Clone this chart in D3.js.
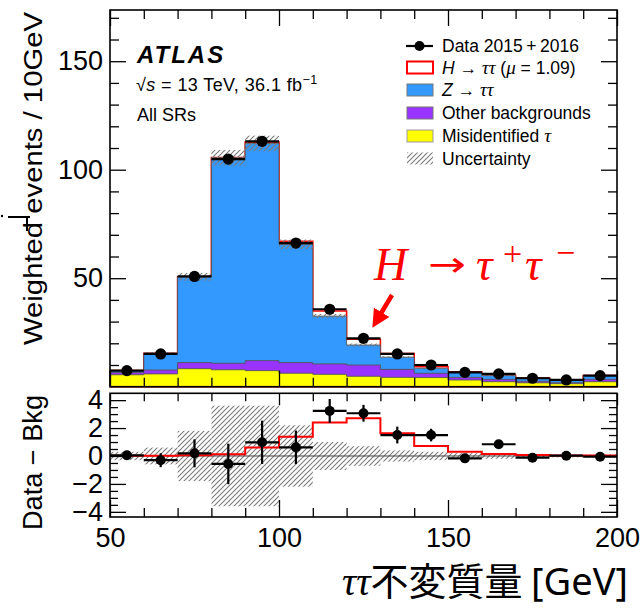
<!DOCTYPE html>
<html><head><meta charset="utf-8">
<script src="https://cdn.jsdelivr.net/npm/d3@7"></script>
<style>
html,body{margin:0;padding:0;background:#fff;}
svg{display:block;}
</style></head>
<body><svg id="c" width="641" height="609" font-family="Liberation Sans, Arial, sans-serif"></svg>
<script>
// ---- data ----
const binLow   = [50,60,70,80,90,100,110,120,130,140,150,160,170,180,190];
const binWidth = 10;
const misid    = [5.5,5.9,8.3,7.8,7.4,6.2,5.7,4.8,4.3,4.2,3.1,2.3,1.8,1.4,2.3];
const otherBkg = [1.0,1.8,2.8,3.0,4.6,4.9,4.8,5.2,3.7,2.0,1.2,1.1,0.7,0.4,1.1];
const ztautau  = [0.9,7.7,39.5,94.7,100.1,54.5,22.0,9.2,5.6,2.3,2.3,1.7,1.5,1.3,1.75];
const higgs    = [0.02,0.02,0.05,0.12,0.6,1.38,2.39,2.7,1.62,0.72,0.31,0.14,0.07,0.03,0.03];
const dataVals = [7.4,15.1,50.8,104.9,113.1,66.2,35.7,22.3,15.1,10.0,6.6,5.9,3.9,3.1,5.1];
const dataErr  = [0.3,0.5,1.0,1.45,1.55,1.2,0.85,0.6,0.6,0.45,0.25,0.3,0.2,0.2,0.2];
const bkgUnc   = [0.3,0.6,1.8,3.6,3.6,2.2,1.0,0.7,0.4,0.3,0.2,0.2,0.15,0.1,0.1];
const diffVals = [0.05,-0.3,0.19,-0.57,0.98,0.62,3.23,3.06,1.5,1.5,-0.17,0.84,-0.12,0.02,-0.05];
const yTopMajor = [50,100,150];
const yTopMinor = [10,20,30,40,60,70,80,90,110,120,130,140,160,170];
const yBotMajor = [-4,-2,0,2,4];
const yBotMinor = [-3.5,-3,-2.5,-1.5,-1,-0.5,0.5,1,1.5,2.5,3,3.5];
const xMajor = [50,100,150,200];
const xMinor = [60,70,80,90,110,120,130,140,160,170,180,190];

const colMisid = "#ffff00", colOther = "#9933ff", colZ = "#3399ff";
const SANS = "Liberation Sans, Arial, sans-serif";
const SERIF = "Liberation Serif, DejaVu Serif, serif";

const svg = d3.select("#c");
const defs = svg.append("defs");
const pat = defs.append("pattern").attr("id","hatch").attr("patternUnits","userSpaceOnUse")
  .attr("width",5).attr("height",5);
pat.append("path").attr("d","M-1,1 l2,-2 M0,5 l5,-5 M4,6 l2,-2")
  .attr("stroke","#7a7a7a").attr("stroke-width",1.1);

const L = 110, R = 617;
const x = d3.scaleLinear().domain([50,200]).range([L,R]);
const yT = d3.scaleLinear().domain([0,173.6]).range([386.7,10]);
const yB = d3.scaleLinear().domain([-4.37,4.49]).range([517,393.3]);

// cumulative stacks
const c1 = misid;
const c2 = misid.map((v,i)=>v+otherBkg[i]);
const c3 = c2.map((v,i)=>v+ztautau[i]);
const c4 = c3.map((v,i)=>v+higgs[i]);

function stepPts(vals){
  const pts = binLow.map((b,i)=>[b,vals[i]]);
  pts.push([binLow[binLow.length-1]+binWidth, vals[vals.length-1]]);
  return pts;
}
const areaT = d3.area().curve(d3.curveStepAfter).x(d=>x(d[0])).y0(yT(0)).y1(d=>yT(d[1]));
const gTop = svg.append("g");
gTop.append("path").datum(stepPts(c4)).attr("d",areaT).attr("fill","#fff").attr("stroke","#ff0000").attr("stroke-width",1.6);
gTop.append("path").datum(stepPts(c3)).attr("d",areaT).attr("fill",colZ).attr("stroke","#555").attr("stroke-width",0.9);
gTop.append("path").datum(stepPts(c2)).attr("d",areaT).attr("fill",colOther).attr("stroke","#555").attr("stroke-width",0.9);
gTop.append("path").datum(stepPts(c1)).attr("d",areaT).attr("fill",colMisid).attr("stroke","#555").attr("stroke-width",0.9);

gTop.selectAll("rect.unc").data(binLow).join("rect").attr("class","unc")
  .attr("x",b=>x(b)).attr("width",b=>x(b+binWidth)-x(b))
  .attr("y",(b,i)=>yT(c3[i]+bkgUnc[i])).attr("height",(b,i)=>yT(c3[i]-bkgUnc[i])-yT(c3[i]+bkgUnc[i]))
  .attr("fill","url(#hatch)");

function drawData(g, ys, vals, errs, r){
  const pts = g.append("g");
  binLow.forEach((b,i)=>{
    const cx = x(b+binWidth/2), cy = ys(vals[i]);
    pts.append("line").attr("x1",x(b)).attr("x2",x(b+binWidth)).attr("y1",cy).attr("y2",cy)
      .attr("stroke","#000").attr("stroke-width",2.2);
    pts.append("line").attr("x1",cx).attr("x2",cx).attr("y1",ys(vals[i]+errs[i])).attr("y2",ys(vals[i]-errs[i]))
      .attr("stroke","#000").attr("stroke-width",2.2);
    pts.append("circle").attr("cx",cx).attr("cy",cy).attr("r",r).attr("fill","#000");
  });
}
drawData(gTop, yT, dataVals, dataErr, 5.6);

// ---- lower panel ----
const gBot = svg.append("g");
gBot.selectAll("rect.unc").data(binLow).join("rect").attr("class","unc")
  .attr("x",b=>x(b)).attr("width",b=>x(b+binWidth)-x(b))
  .attr("y",(b,i)=>yB(bkgUnc[i])).attr("height",(b,i)=>yB(-bkgUnc[i])-yB(bkgUnc[i]))
  .attr("fill","url(#hatch)");
gBot.append("line").attr("x1",L).attr("x2",R).attr("y1",yB(0)).attr("y2",yB(0))
  .attr("stroke","#444").attr("stroke-width",1);
const lineB = d3.line().curve(d3.curveStepAfter).x(d=>x(d[0])).y(d=>yB(d[1]));
gBot.append("path").datum(stepPts(higgs)).attr("d",lineB).attr("fill","none")
  .attr("stroke","#ff0000").attr("stroke-width",2);
drawData(gBot, yB, diffVals, dataErr, 5);

// ---- frames & axes ----
function frame(y0,y1){
  svg.append("rect").attr("x",L).attr("y",y0).attr("width",R-L).attr("height",y1-y0)
    .attr("fill","none").attr("stroke","#000").attr("stroke-width",1.6);
}
frame(10,386.7);
frame(393.3,517);

function addAxis(axis, tx, ty){
  const g = svg.append("g").attr("transform",`translate(${tx},${ty})`).call(axis);
  g.select(".domain").remove();
  g.attr("font-family",SANS).attr("font-size",27);
  g.selectAll(".tick line").attr("stroke","#000").attr("stroke-width",1.3);
  g.selectAll("text").attr("fill","#000");
  return g;
}
addAxis(d3.axisRight(yT).tickValues(yTopMajor).tickSize(16).tickFormat(""), L, 0);
addAxis(d3.axisRight(yT).tickValues(yTopMinor).tickSize(9).tickFormat(""), L, 0);
addAxis(d3.axisLeft(yT).tickValues(yTopMajor).tickSize(16).tickFormat(""), R, 0);
addAxis(d3.axisLeft(yT).tickValues(yTopMinor).tickSize(9).tickFormat(""), R, 0);
addAxis(d3.axisLeft(yT).tickValues(yTopMajor).tickSize(0).tickPadding(7).tickFormat(d3.format("d")), L, 0);
addAxis(d3.axisTop(x).tickValues(xMajor).tickSize(16).tickFormat(""), 0, 386.7);
addAxis(d3.axisTop(x).tickValues(xMinor).tickSize(9).tickFormat(""), 0, 386.7);
addAxis(d3.axisBottom(x).tickValues(xMajor).tickSize(16).tickFormat(""), 0, 10);
addAxis(d3.axisBottom(x).tickValues(xMinor).tickSize(9).tickFormat(""), 0, 10);
addAxis(d3.axisRight(yB).tickValues(yBotMajor).tickSize(16).tickFormat(""), L, 0);
addAxis(d3.axisRight(yB).tickValues(yBotMinor).tickSize(8).tickFormat(""), L, 0);
addAxis(d3.axisLeft(yB).tickValues(yBotMajor).tickSize(16).tickFormat(""), R, 0);
addAxis(d3.axisLeft(yB).tickValues(yBotMinor).tickSize(8).tickFormat(""), R, 0);
addAxis(d3.axisLeft(yB).tickValues(yBotMajor).tickSize(0).tickPadding(7).tickFormat(d=>d<0?"\u2212"+Math.abs(d):d), L, 0);
addAxis(d3.axisTop(x).tickValues(xMajor).tickSize(17).tickFormat(""), 0, 517);
addAxis(d3.axisTop(x).tickValues(xMinor).tickSize(9).tickFormat(""), 0, 517);
addAxis(d3.axisBottom(x).tickValues(xMajor).tickSize(12).tickFormat(""), 0, 393.3);
addAxis(d3.axisBottom(x).tickValues(xMinor).tickSize(8).tickFormat(""), 0, 393.3);
const xl = addAxis(d3.axisBottom(x).tickValues(xMajor).tickSize(0).tickPadding(4).tickFormat(d3.format("d")), 0, 517);
xl.selectAll("text").attr("dy","0.95em");

// ---- axis titles ----
svg.append("text").attr("transform","translate(42,12) rotate(-90)").attr("text-anchor","end")
  .attr("font-size",26).attr("textLength",333).attr("lengthAdjust","spacingAndGlyphs")
  .text("Weighted events / 10GeV");
svg.append("text").attr("transform","translate(42,395) rotate(-90)").attr("text-anchor","end")
  .attr("font-size",27).attr("textLength",135).attr("lengthAdjust","spacingAndGlyphs").text("Data \u2212 Bkg");
// stray superscript fragment at left edge
svg.append("path").attr("d","M8,217 H30 M27,217 V231").attr("stroke","#000").attr("stroke-width",2).attr("fill","none");
svg.append("circle").attr("cx",2).attr("cy",216).attr("r",1.2).attr("fill","#000");

const xt = svg.append("text").attr("x",628).attr("y",595).attr("text-anchor","end").attr("font-size",38);
xt.append("tspan").attr("font-family",SERIF).attr("font-style","italic").attr("font-size",40).text("\u03c4\u03c4");
xt.append("tspan").attr("font-family","Noto Sans CJK JP, sans-serif").text("不変質量 ");
xt.append("tspan").attr("font-family","Noto Sans, sans-serif").text("[GeV]");

// ---- ATLAS label ----
svg.append("text").attr("x",137).attr("y",63).attr("font-size",24).attr("font-weight","bold")
  .attr("font-style","italic").attr("letter-spacing",2).text("ATLAS");
const en = svg.append("text").attr("x",136).attr("y",91).attr("font-size",18).attr("letter-spacing",0.4);
en.append("tspan").text("\u221a");
en.append("tspan").attr("font-style","italic").text("s");
en.append("tspan").text(" = 13 TeV, 36.1 fb");
en.append("tspan").attr("dy",-7).attr("font-size",12.5).text("\u22121");
svg.append("text").attr("x",137).attr("y",121).attr("font-size",18).text("All SRs");

// ---- legend ----
const legY = [46,67.5,90,113,136,158.5];
const lg = svg.append("g");
lg.append("line").attr("x1",406).attr("x2",433).attr("y1",legY[0]).attr("y2",legY[0]).attr("stroke","#000").attr("stroke-width",2.2);
lg.append("circle").attr("cx",419.5).attr("cy",legY[0]).attr("r",5).attr("fill","#000");
const boxes = [["#fff","#ff0000",2],[colZ,"#777",1],[colOther,"#777",1],[colMisid,"#999",1],["url(#hatch)","none",0]];
boxes.forEach((b,i)=>{
  lg.append("rect").attr("x",407).attr("y",legY[i+1]-6).attr("width",26).attr("height",12)
    .attr("fill",b[0]).attr("stroke",b[1]).attr("stroke-width",b[2]);
});
const tx = 442, fs = 17.5;
function legText(i){ return lg.append("text").attr("x",tx).attr("y",legY[i]+6).attr("font-size",fs); }
legText(0).text("Data 2015\u2009+\u20092016");
let t = legText(1);
t.append("tspan").attr("font-style","italic").text("H");
t.append("tspan").text(" \u2192 ");
t.append("tspan").attr("font-family",SERIF).attr("font-style","italic").attr("font-size",19).text("\u03c4\u03c4");
t.append("tspan").text(" (");
t.append("tspan").attr("font-family",SERIF).attr("font-style","italic").attr("font-size",19).text("\u03bc");
t.append("tspan").text(" = 1.09)");
t = legText(2);
t.append("tspan").attr("font-style","italic").text("Z");
t.append("tspan").text(" \u2192 ");
t.append("tspan").attr("font-family",SERIF).attr("font-style","italic").attr("font-size",19).text("\u03c4\u03c4");
legText(3).text("Other backgrounds");
t = legText(4);
t.append("tspan").text("Misidentified ");
t.append("tspan").attr("font-family",SERIF).attr("font-style","italic").attr("font-size",19).text("\u03c4");
legText(5).text("Uncertainty");

// ---- red annotation ----
const an = svg.append("g");
function aText(xp, yp, s, size, italic){
  return an.append("text").attr("x",xp).attr("y",yp).attr("font-family",SERIF)
    .attr("font-size",size).attr("font-style",italic?"italic":"normal").attr("fill","#ff0000").text(s);
}
aText(374,280,"H",46,true);
aText(476,280,"\u03c4",46,true);
aText(503,265,"+",34,false);
aText(525,280,"\u03c4",46,true);
aText(556,264,"\u2212",34,false);
// the long "→" of the formula
an.append("text").attr("x",428).attr("y",276).attr("font-family","DejaVu Sans, sans-serif")
  .attr("font-size",34).attr("textLength",38).attr("lengthAdjust","spacingAndGlyphs")
  .attr("fill","#ff0000").text("\u2192");
defs.append("marker").attr("id","ah").attr("viewBox","0 0 10 10").attr("refX",5).attr("refY",5)
  .attr("markerWidth",4).attr("markerHeight",4).attr("orient","auto")
  .append("path").attr("d","M0,0 L10,5 L0,10 z").attr("fill","#ff0000");
an.append("line").attr("x1",392).attr("y1",295).attr("x2",377).attr("y2",320)
  .attr("stroke","#ff0000").attr("stroke-width",4.5).attr("marker-end","url(#ah)");
</script></body></html>
